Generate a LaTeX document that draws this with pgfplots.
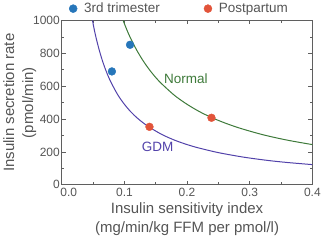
\documentclass[border=0pt]{standalone}
\usepackage{pgfplots}
\pgfplotsset{compat=1.18}
\usepackage{fontspec}
\setmainfont{Liberation Sans}

\definecolor{normalgreen}{RGB}{62,122,58}
\definecolor{gdmpurple}{RGB}{82,66,170}
\definecolor{trimblue}{RGB}{38,118,186}
\definecolor{postred}{RGB}{226,84,58}
\definecolor{axisgray}{RGB}{95,95,95}
\definecolor{textgray}{RGB}{85,85,85}

\begin{document}
\begin{tikzpicture}[x=1bp,y=1bp]
\begin{axis}[
  scale only axis,
  width=250bp, height=164bp,
  xmin=0, xmax=0.4, ymin=0, ymax=1000,
  xtick={0,0.1,0.2,0.3,0.4},
  minor xtick={0.05,0.15,0.25,0.35},
  ytick={0,200,400,600,800,1000},
  minor ytick={100,300,500,700,900},
  xticklabels={\hspace*{14bp}0.0,0.1,0.2,0.3,0.4},
  tick align=inside,
  major tick length=4bp, minor tick length=2.5bp,
  axis line style={axisgray, line width=1pt},
  every tick/.style={axisgray, line width=0.7pt},
  tick label style={font=\fontsize{12}{14}\selectfont, text=textgray},
  /pgf/number format/assume math mode=true,
  scaled y ticks=false,
  y tick label style={/pgf/number format/1000 sep={}, xshift=1.5bp},
  xlabel={Insulin sensitivity index\\(mg/min/kg FFM per pmol/l)},
  ylabel={Insulin secretion rate\\(pmol/min)},
  label style={font=\fontsize{15}{19}\selectfont, text=textgray, align=center},
  xlabel style={yshift=1bp},
  ylabel style={yshift=-10bp},
  legend columns=2,
  legend style={at={(0.47,1.0)}, anchor=south, draw=none, fill=none,
    font=\fontsize{13.5}{15}\selectfont, text=textgray,
    /tikz/every even column/.append style={column sep=42bp},
    /tikz/every odd column/.append style={column sep=5bp},
    inner sep=1bp, yshift=3bp},
  legend image code/.code={\draw[#1, mark size=4bp] plot coordinates {(0bp,0bp)};},
  legend cell align=left,
  clip=true,
]
% fitted hyperbolic curves
\addplot[gdmpurple, line width=1pt, smooth, forget plot] coordinates {
  (0.049,1000) (0.052,942) (0.055,891) (0.06,817) (0.065,754) (0.07,700)
  (0.075,653) (0.08,613) (0.09,544) (0.1,490) (0.11,445) (0.12,408)
  (0.13,377) (0.14,350) (0.16,306) (0.18,272) (0.2,245) (0.22,223)
  (0.25,196) (0.28,175) (0.3,163) (0.33,148) (0.36,136) (0.4,123)};
\addplot[normalgreen, line width=1pt, smooth, forget plot] coordinates {
  (0.098,1000) (0.1,980) (0.105,933) (0.11,891) (0.12,817) (0.13,754)
  (0.14,700) (0.15,653) (0.16,613) (0.18,544) (0.2,490) (0.22,445)
  (0.24,408) (0.26,377) (0.28,350) (0.3,327) (0.32,306) (0.34,288)
  (0.36,272) (0.38,258) (0.4,245)};
% measured points
\addplot[only marks, mark=*, mark size=3.9bp, trimblue, mark options={draw=trimblue, fill=trimblue}] coordinates {
  (0.08,690) (0.109,852)};
\addlegendentry{3rd trimester}
\addplot[only marks, mark=*, mark size=3.9bp, postred, mark options={draw=postred, fill=postred}] coordinates {
  (0.14,353) (0.239,408)};
\addlegendentry{Postpartum}
\node[normalgreen, font=\fontsize{13.5}{15}\selectfont] at (axis cs:0.198,646) {Normal};
\node[gdmpurple, font=\fontsize{13.5}{15}\selectfont] at (axis cs:0.153,234) {GDM};
\end{axis}
\end{tikzpicture}
\end{document}
